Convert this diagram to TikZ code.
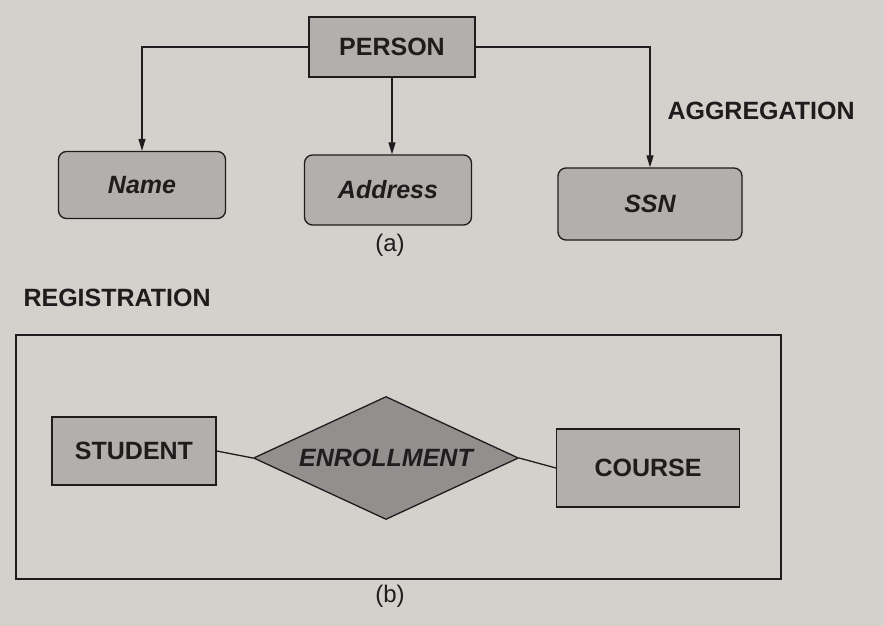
\documentclass[tikz,border=0pt]{standalone}
\usepackage{fontspec}
\setmainfont{Liberation Sans}
\usetikzlibrary{shapes.geometric,arrows.meta}
\definecolor{paper}{RGB}{212,209,205}
\definecolor{boxfill}{RGB}{178,175,172}
\definecolor{relfill}{RGB}{146,144,142}
\definecolor{ink}{RGB}{30,28,28}
\tikzset{
  every node/.style={font=\fontsize{25}{28}\selectfont\bfseries, text=ink},
  entity/.style={draw=ink, line width=1.3pt, fill=boxfill, rectangle, inner sep=0pt},
  attr/.style={entity, rounded corners=8pt, font=\fontsize{25}{28}\selectfont\bfseries\itshape},
  rel/.style={draw=ink, line width=1.3pt, fill=relfill, diamond, shape aspect=2.15, inner sep=0pt,
              font=\fontsize{25}{28}\selectfont\bfseries\itshape},
  link/.style={draw=ink, line width=1.3pt},
  arrowlink/.style={link, -{Triangle[length=12pt,width=7pt]}},
  caption/.style={font=\fontsize{24}{28}\selectfont},
  frame/.style={draw=ink, line width=1.3pt}
}
\begin{document}
\begin{tikzpicture}[x=1pt,y=-1pt]
  % page background
  \fill[paper] (0,0) rectangle (884,626);
  \useasboundingbox (0,0) rectangle (884,626);

  % (a) aggregation of attributes
  \node[entity, minimum width=166pt, minimum height=60pt] (person) at (392,47) {PERSON};
  \node[attr, minimum width=167pt, minimum height=67pt] (name) at (142,185) {Name};
  \node[attr, minimum width=167pt, minimum height=70pt] (address) at (388,190) {Address};
  \node[attr, minimum width=184pt, minimum height=72pt] (ssn) at (650,204) {SSN};

  \draw[arrowlink] (person.west) -| (name.north);
  \draw[arrowlink] (person.south) -- (person.south |- address.north);
  \draw[arrowlink] (person.east) -| (ssn.north);

  \node[anchor=west] (agg) at (664,111) {AGGREGATION};
  \node[caption] (capa) at (390,245) {(a)};

  % (b) registration as an aggregated relationship
  \node[anchor=west] (reg) at (20,298) {REGISTRATION};
  \node[frame, rectangle, minimum width=765pt, minimum height=244pt, inner sep=0pt] (regbox) at (398.5,457) {};

  \node[entity, minimum width=164pt, minimum height=68pt] (student) at (134,451) {STUDENT};
  \node[rel, minimum width=265pt, minimum height=123pt] (enroll) at (386,458) {ENROLLMENT};
  \node[entity, minimum width=183pt, minimum height=78pt] (course) at (648,468) {COURSE};

  \draw[link] (student.east) -- (enroll.west);
  \draw[link] (enroll.east) -- (course.west);

  \node[caption] (capb) at (390,596) {(b)};
\end{tikzpicture}
\end{document}
